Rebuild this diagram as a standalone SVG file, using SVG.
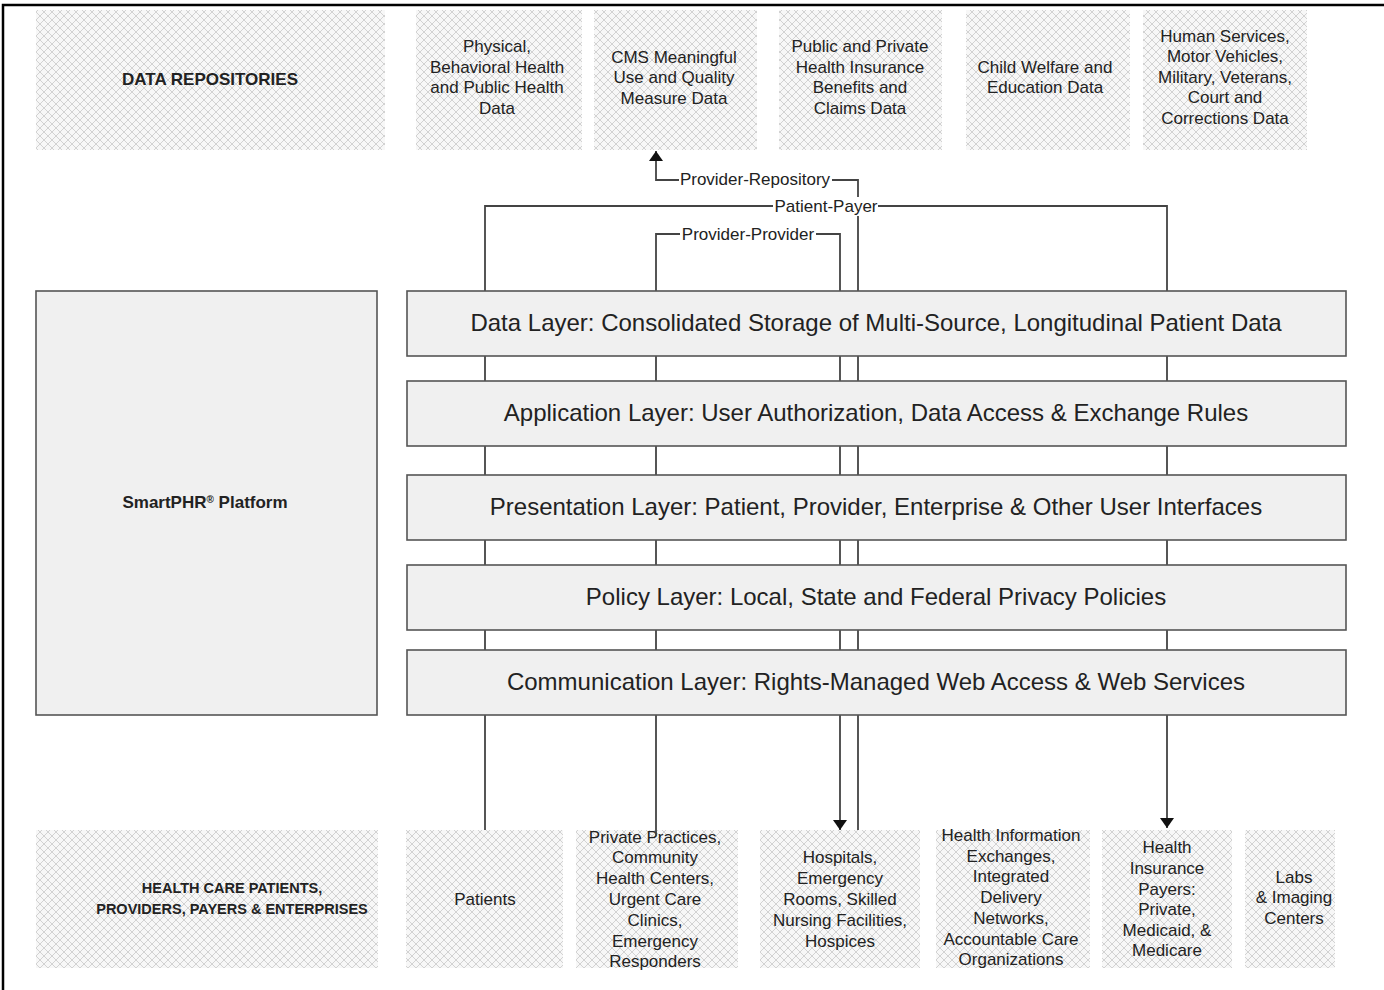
<svg xmlns="http://www.w3.org/2000/svg" width="1384" height="990" viewBox="0 0 1384 990">
<defs>
<pattern id="hatch" width="8" height="8" patternUnits="userSpaceOnUse">
<rect width="8" height="8" fill="#f7f7f7"/>
<path d="M0,0 L8,8 M8,0 L0,8" stroke="#d2d2d2" stroke-width="1"/>
</pattern>
<marker id="arr" viewBox="0 0 10 14" refX="10" refY="7" markerWidth="10" markerHeight="14" markerUnits="userSpaceOnUse" orient="auto">
<path d="M0,0 L10,7 L0,14 Z" fill="#111"/>
</marker>
</defs>
<style>
.hb{fill:url(#hatch);stroke:none}
.t{font-family:"Liberation Sans",Arial,sans-serif;font-size:17px;fill:#222;text-anchor:middle}
.tb{font-family:"Liberation Sans",Arial,sans-serif;font-size:17px;font-weight:bold;fill:#222;text-anchor:middle}
.lt{font-family:"Liberation Sans",Arial,sans-serif;font-size:24px;fill:#222;text-anchor:middle}
.ly{fill:#f0f0f0;stroke:#555;stroke-width:1.6}
.c{fill:none;stroke:#444;stroke-width:1.8}
.cl{font-family:"Liberation Sans",Arial,sans-serif;font-size:17px;fill:#222;text-anchor:middle}
</style>
<rect width="1384" height="990" fill="#fff"/>
<path d="M3,990 L3,5 L1384,5" fill="none" stroke="#000" stroke-width="2.5"/>

<!-- top repositories -->
<g id="data-repositories"><rect class="hb" x="36" y="10" width="349" height="140"/><text class="tb" x="210" y="85">DATA REPOSITORIES</text></g>
<g id="repo-physical"><rect class="hb" x="416" y="10" width="166" height="140"/>
<text class="t" x="497" y="52">Physical,</text><text class="t" x="497" y="73">Behavioral Health</text><text class="t" x="497" y="93">and Public Health</text><text class="t" x="497" y="114">Data</text></g>
<g id="repo-cms"><rect class="hb" x="594" y="10" width="163" height="140"/>
<text class="t" x="674" y="63">CMS Meaningful</text><text class="t" x="674" y="83">Use and Quality</text><text class="t" x="674" y="104">Measure Data</text></g>
<g id="repo-insurance"><rect class="hb" x="779" y="10" width="163" height="140"/>
<text class="t" x="860" y="52">Public and Private</text><text class="t" x="860" y="73">Health Insurance</text><text class="t" x="860" y="93">Benefits and</text><text class="t" x="860" y="114">Claims Data</text></g>
<g id="repo-child"><rect class="hb" x="966" y="10" width="164" height="140"/>
<text class="t" x="1045" y="73">Child Welfare and</text><text class="t" x="1045" y="93">Education Data</text></g>
<g id="repo-human"><rect class="hb" x="1143" y="10" width="164" height="140"/>
<text class="t" x="1225" y="42">Human Services,</text><text class="t" x="1225" y="62">Motor Vehicles,</text><text class="t" x="1225" y="83">Military, Veterans,</text><text class="t" x="1225" y="103">Court and</text><text class="t" x="1225" y="124">Corrections  Data</text></g>

<!-- bottom entities -->
<g id="health-care"><rect class="hb" x="36" y="830" width="342" height="138"/>
<text class="tb" x="232" y="893" style="font-size:14.5px">HEALTH CARE PATIENTS,</text><text class="tb" x="232" y="914" style="font-size:14.5px">PROVIDERS, PAYERS &amp; ENTERPRISES</text></g>
<g id="patients"><rect class="hb" x="406" y="830" width="157" height="138"/><text class="t" x="485" y="905">Patients</text></g>
<g id="private-practices"><rect class="hb" x="576" y="830" width="162" height="138"/>
<text class="t" x="655" y="843">Private Practices,</text><text class="t" x="655" y="863">Community</text><text class="t" x="655" y="884">Health Centers,</text><text class="t" x="655" y="905">Urgent Care</text><text class="t" x="655" y="926">Clinics,</text><text class="t" x="655" y="947">Emergency</text><text class="t" x="655" y="967">Responders</text></g>
<g id="hospitals"><rect class="hb" x="760" y="830" width="160" height="138"/>
<text class="t" x="840" y="863">Hospitals,</text><text class="t" x="840" y="884">Emergency</text><text class="t" x="840" y="905">Rooms, Skilled</text><text class="t" x="840" y="926">Nursing Facilities,</text><text class="t" x="840" y="947">Hospices</text></g>
<g id="hie"><rect class="hb" x="936" y="830" width="154" height="138"/>
<text class="t" x="1011" y="841">Health Information</text><text class="t" x="1011" y="862">Exchanges,</text><text class="t" x="1011" y="882">Integrated</text><text class="t" x="1011" y="903">Delivery</text><text class="t" x="1011" y="924">Networks,</text><text class="t" x="1011" y="945">Accountable Care</text><text class="t" x="1011" y="965">Organizations</text></g>
<g id="payers"><rect class="hb" x="1102" y="830" width="130" height="138"/>
<text class="t" x="1167" y="853">Health</text><text class="t" x="1167" y="874">Insurance</text><text class="t" x="1167" y="895">Payers:</text><text class="t" x="1167" y="915">Private,</text><text class="t" x="1167" y="936">Medicaid, &amp;</text><text class="t" x="1167" y="956">Medicare</text></g>
<g id="labs"><rect class="hb" x="1245" y="830" width="90" height="138"/>
<text class="t" x="1294" y="883">Labs</text><text class="t" x="1294" y="903">&amp; Imaging</text><text class="t" x="1294" y="924">Centers</text></g>

<!-- connectors -->
<g id="connectors">
<path class="c" d="M485,830 L485,206 L1167,206 L1167,828" marker-end="url(#arr)"/>
<path class="c" d="M656,836 L656,234 L840,234 L840,830" marker-end="url(#arr)"/>
<path class="c" d="M858,830 L858,180 L656,180 L656,151" marker-end="url(#arr)"/>
<rect x="679" y="170" width="153" height="19" fill="#fff"/>
<text class="cl" x="755" y="185">Provider-Repository</text>
<rect x="773" y="197" width="105" height="19" fill="#fff"/>
<text class="cl" x="826" y="212">Patient-Payer</text>
<rect x="680" y="225" width="136" height="19" fill="#fff"/>
<text class="cl" x="748" y="240">Provider-Provider</text>
</g>

<!-- platform -->
<g id="smartphr"><rect class="ly" x="36" y="291" width="341" height="424"/>
<text class="tb" x="205" y="508">SmartPHR<tspan font-size="10" dy="-5">®</tspan><tspan dy="5"> Platform</tspan></text></g>

<g id="data-layer"><rect class="ly" x="407" y="291" width="939" height="65"/><text class="lt" x="876" y="331">Data Layer: Consolidated Storage of Multi-Source, Longitudinal Patient Data</text></g>
<g id="application-layer"><rect class="ly" x="407" y="381" width="939" height="65"/><text class="lt" x="876" y="421">Application Layer: User Authorization, Data Access &amp; Exchange Rules</text></g>
<g id="presentation-layer"><rect class="ly" x="407" y="475" width="939" height="65"/><text class="lt" x="876" y="515">Presentation Layer: Patient, Provider, Enterprise &amp; Other User Interfaces</text></g>
<g id="policy-layer"><rect class="ly" x="407" y="565" width="939" height="65"/><text class="lt" x="876" y="605">Policy Layer: Local, State and Federal Privacy Policies</text></g>
<g id="communication-layer"><rect class="ly" x="407" y="650" width="939" height="65"/><text class="lt" x="876" y="690">Communication Layer: Rights-Managed Web Access &amp; Web Services</text></g>
</svg>
